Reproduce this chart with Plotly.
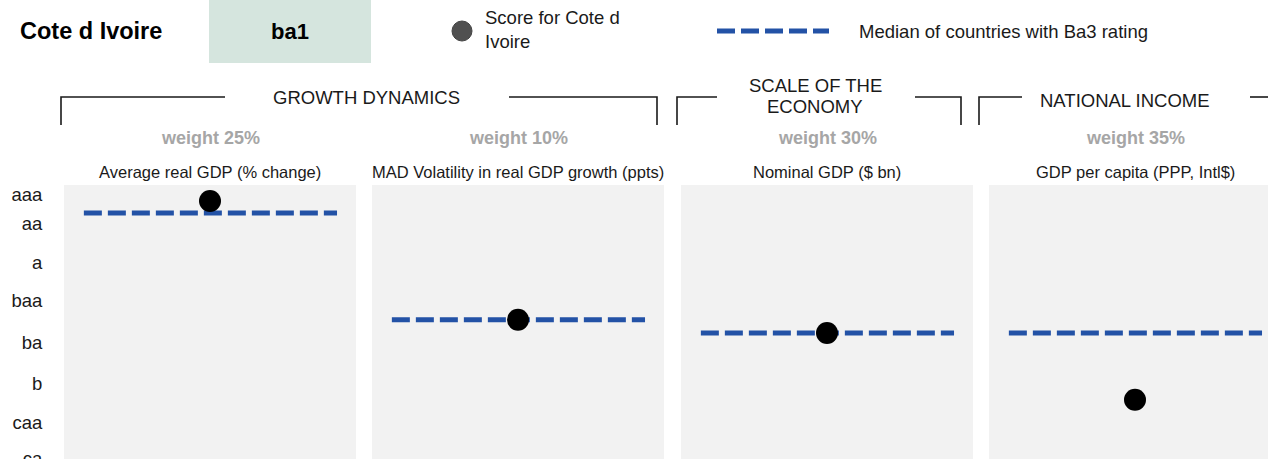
import plotly.graph_objects as go

# Figure size in pixels
W, H = 1268, 459

# ---- data -------------------------------------------------------------
country = "Cote d Ivoire"
rating = "ba1"
score_label = "Score for Cote d<br>Ivoire"
peer_label = "Median of countries with Ba3 rating"

factors = ["GROWTH DYNAMICS", "SCALE OF THE<br>ECONOMY", "NATIONAL INCOME"]
weights = ["weight 25%", "weight 10%", "weight 30%", "weight 35%"]
metrics = [
    "Average real GDP (% change)",
    "MAD Volatility in real GDP growth (ppts)",
    "Nominal GDP ($ bn)",
    "GDP per capita (PPP, Intl$)",
]
# scores on the rating scale (lower = stronger)
country_score = [1.6, 10.5, 11.5, 16.5]
peer_median = [2.5, 10.5, 11.5, 11.5]

tick_labels = ["aaa", "aa", "a", "baa", "ba", "b", "caa", "ca"]
tick_vals = [1.1, 3.3, 6.2, 9.1, 12.2, 15.3, 18.2, 20.9]

# ---- layout helpers ---------------------------------------------------
FONT = "Liberation Sans, Arial, sans-serif"
BLUE = "#2352a6"
INK = "#1a1a1a"
PANEL_W = 292
panels_px = [64, 372, 681, 989]          # left edge of each panel
PLOT_TOP = 185                           # top edge of the panels


def px(x):
    return x / W


def py(y):
    return 1 - y / H


fig = go.Figure()

for i in range(4):
    n = "" if i == 0 else str(i + 1)
    left = panels_px[i]
    right = min(left + PANEL_W, W)
    xr = (right - left) / PANEL_W
    fig.add_trace(go.Scatter(
        x=[0.068, 0.935], y=[peer_median[i]] * 2, mode="lines",
        line=dict(color=BLUE, width=5, dash="18px,6px"),
        xaxis="x" + n, yaxis="y" + n, showlegend=False, hoverinfo="skip"))
    fig.add_trace(go.Scatter(
        x=[0.5], y=[country_score[i]], mode="markers",
        marker=dict(color="black", size=22),
        xaxis="x" + n, yaxis="y" + n, showlegend=False))
    fig.layout["xaxis" + n] = dict(
        domain=[px(left), px(right)], range=[0, xr], visible=False,
        anchor="y" + n, fixedrange=True)
    ycfg = dict(
        domain=[0, py(PLOT_TOP)], range=[20.95, 0.4], anchor="x" + n,
        showgrid=False, zeroline=False, showline=False, automargin=False)
    if i == 0:
        ycfg.update(tickmode="array", tickvals=tick_vals, ticktext=tick_labels,
                    ticks="outside", ticklen=17, tickcolor="rgba(0,0,0,0)",
                    ticklabeloverflow="allow",
                    tickfont=dict(family=FONT, size=18.5, color=INK))
    else:
        ycfg.update(showticklabels=False, ticks="")
    fig.layout["yaxis" + n] = ycfg

    # weight and metric captions above each panel
    cx = px(left + PANEL_W / 2)
    fig.add_annotation(x=cx, y=py(138), text="<b>" + weights[i] + "</b>",
                       font=dict(family=FONT, size=18, color="#a6a6a6"))
    fig.add_annotation(x=cx, y=py(172), text=metrics[i],
                       font=dict(family=FONT, size=16.5, color=INK))

shapes = []
# rating box
shapes.append(dict(type="rect", xref="paper", yref="paper",
                   x0=px(209), x1=px(371), y0=py(63), y1=py(0),
                   fillcolor="#d5e5de", line=dict(width=0)))
# legend keys
shapes.append(dict(type="circle", xref="paper", yref="paper",
                   x0=px(452), x1=px(472), y0=py(41), y1=py(21),
                   fillcolor="#505050", line=dict(color="#444", width=1)))
shapes.append(dict(type="line", xref="paper", yref="paper",
                   x0=px(717), x1=px(829), y0=py(31), y1=py(31),
                   line=dict(color=BLUE, width=5, dash="18px,6px")))

# factor group brackets: (left x, left end of line, right start, right x)
brackets = [(61, 225, 509, 657), (677, 717, 915, 961), (979, 1022, 1250, None)]
BR_TOP, BR_BOT = 97, 125
for lx, l_end, r_start, rx in brackets:
    path = f"M {px(lx)} {py(BR_BOT)} L {px(lx)} {py(BR_TOP)} L {px(l_end)} {py(BR_TOP)}"
    shapes.append(dict(type="path", xref="paper", yref="paper", path=path,
                       line=dict(color=INK, width=1.6)))
    if rx is None:
        path = f"M {px(r_start)} {py(BR_TOP)} L {px(W)} {py(BR_TOP)}"
    else:
        path = f"M {px(r_start)} {py(BR_TOP)} L {px(rx)} {py(BR_TOP)} L {px(rx)} {py(BR_BOT)}"
    shapes.append(dict(type="path", xref="paper", yref="paper", path=path,
                       line=dict(color=INK, width=1.6)))

annotations = [
    dict(x=px(18), y=py(31), xanchor="left", text="<b>" + country + "</b>",
         font=dict(family=FONT, size=23.5, color="black")),
    dict(x=px(290), y=py(31), text="<b>" + rating + "</b>",
         font=dict(family=FONT, size=22, color="black")),
    dict(x=px(483), y=py(30), xanchor="left", align="left", text=score_label,
         font=dict(family=FONT, size=18.5, color=INK)),
    dict(x=px(857), y=py(31), xanchor="left", text=peer_label,
         font=dict(family=FONT, size=18.5, color=INK)),
    dict(x=px(367), y=py(98), text=factors[0],
         font=dict(family=FONT, size=18.5, color=INK)),
    dict(x=px(1125), y=py(100), text=factors[2],
         font=dict(family=FONT, size=18.5, color=INK)),
]
# two-line group title, set with tighter leading
for k, line in enumerate(factors[1].split("<br>")):
    annotations.append(dict(x=px(815), y=py(86 + 20 * k), text=line,
                            font=dict(family=FONT, size=18.5, color=INK)))
for a in annotations:
    fig.add_annotation(**a)

fig.update_annotations(xref="paper", yref="paper", showarrow=False,
                       yanchor="middle")
for ann in fig.layout.annotations:
    if ann.xanchor is None:
        ann.xanchor = "center"

fig.update_layout(
    width=W, height=H, margin=dict(l=0, r=0, t=0, b=0, autoexpand=False),
    paper_bgcolor="white", plot_bgcolor="#f2f2f2", template="none",
    shapes=shapes, showlegend=False, hovermode=False)

fig.write_html("out.html")
